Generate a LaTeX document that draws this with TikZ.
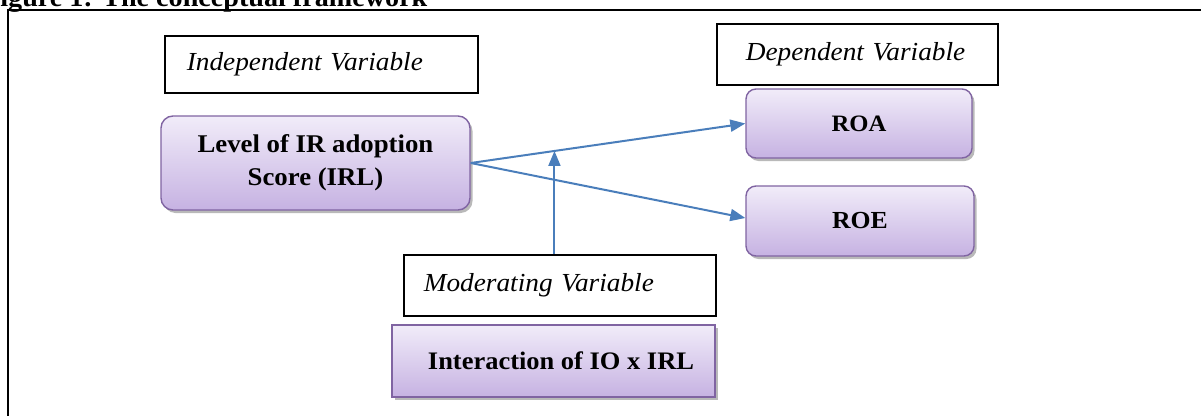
\documentclass[tikz,border=0pt]{standalone}
\usepackage{fontspec}
\setmainfont{Liberation Serif}[FakeStretch=1.05]
\usetikzlibrary{arrows.meta,shadows,calc}

\definecolor{boxedge}{HTML}{8064A2}
\definecolor{boxtop}{HTML}{F1ECF9}
\definecolor{boxbottom}{HTML}{C6B2E2}
\definecolor{flowblue}{HTML}{4A7EBB}

\tikzset{
  varbox/.style={draw=black, line width=1.6pt, anchor=north west,
    font=\itshape\fontsize{26}{30}\selectfont, align=left, inner ysep=0pt},
  purplebox/.style={draw=boxedge, line width=1.4pt,
    top color=boxtop, bottom color=boxbottom,
    drop shadow={shadow xshift=2.5pt, shadow yshift=-3pt, fill=black!50, opacity=0.55},
    font=\bfseries\fontsize{25.5}{33}\selectfont, align=center, inner sep=0pt},
  flow/.style={draw=flowblue, line width=2pt,
    -{Triangle[length=15pt,width=12pt]}},
}

\begin{document}
\begin{tikzpicture}[x=1pt, y=-1pt]
  \useasboundingbox (0,0) rectangle (1201,415);
  \clip (0,0) rectangle (1201,415);

  % caption line above the frame
  \node[anchor=base west, inner sep=0pt, font=\bfseries\fontsize{26.8}{30}\selectfont]
    (caption) at (-17,6) {Figure 1: The conceptual framework};

  % outer frame
  \draw[line width=2.5pt] (8,430) -- (8,10) -- (1220,10);

  % variable headings
  \node[varbox, minimum width=313pt, minimum height=57pt,
        inner xsep=22pt, text width=269pt] (indep) at (164,35) {Independent Variable};
  \node[varbox, minimum width=281pt, minimum height=61pt,
        inner xsep=29pt, text width=223pt] (dep) at (716,23) {Dependent Variable};
  \node[varbox, minimum width=312pt, minimum height=61pt,
        inner xsep=20pt, text width=272pt] (mod) at (403,254) {Moderating Variable};

  % constructs
  \node[purplebox, rounded corners=12pt, minimum width=309pt, minimum height=94pt]
    (lvl) at (315.5,163) {Level of IR adoption\\Score (IRL)};
  \node[purplebox, rounded corners=10pt, minimum width=226pt, minimum height=69pt,
        font=\bfseries\fontsize{23.5}{28}\selectfont]
    (roa) at (859,123.5) {ROA};
  \node[purplebox, rounded corners=10pt, minimum width=228pt, minimum height=70pt,
        font=\bfseries\fontsize{24.5}{28}\selectfont]
    (roe) at (860,221) {ROE};
  \node[purplebox, minimum width=323pt, minimum height=72pt,
        font=\bfseries\fontsize{25.2}{30}\selectfont]
    (inter) at (553.5,361) {\hspace*{15pt}Interaction of IO x IRL};

  % relationships
  \coordinate (hit) at ($(lvl.east)!0.305!(roa.west)$);
  \draw[flow] (lvl.east) -- (roa.west);
  \draw[flow] (lvl.east) -- ([yshift=3pt]roe.west);
  \draw[flow] (mod.north -| hit) -- (hit);
\end{tikzpicture}
\end{document}
